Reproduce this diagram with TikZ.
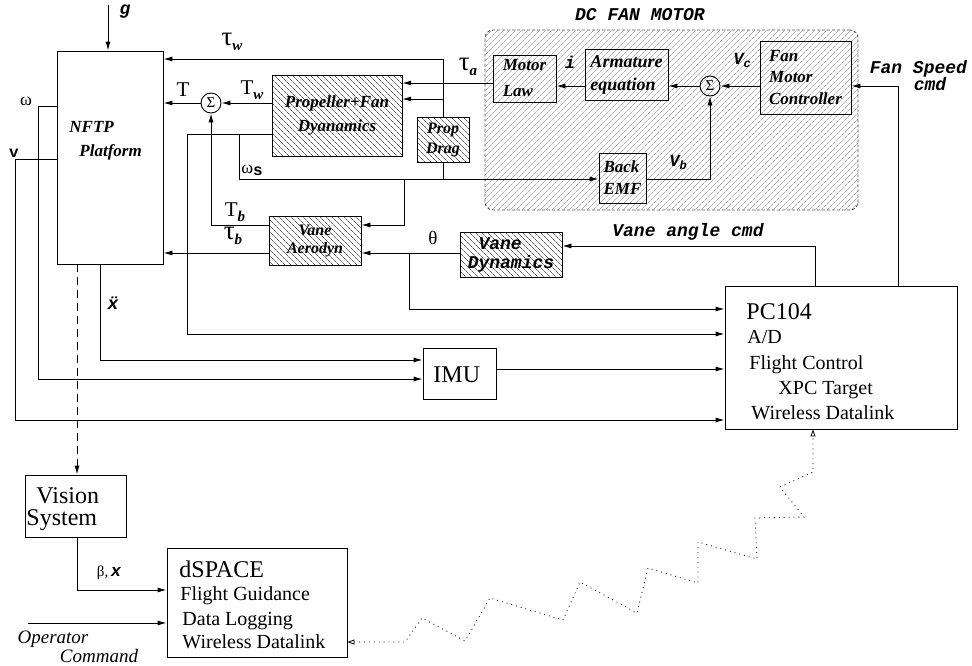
\documentclass[tikz,border=0pt]{standalone}
\usepackage{fontspec}
\setmainfont{Liberation Serif}
\newfontfamily\cour{Liberation Mono}
\usetikzlibrary{arrows.meta,patterns.meta}
\newcommand\fsz[1]{\fontsize{#1}{#1}\selectfont}
\newcommand\bix{\bfseries\itshape}
\newcommand\sbs[1]{\raisebox{-0.22em}{\fsz{15}\bfseries\itshape #1}}
\newcommand\csub[1]{\raisebox{-3pt}{\fsz{12}#1}}
\newcommand\tauu{{\fsz{27}τ}}
\begin{document}
\begin{tikzpicture}[x=1pt,y=-1pt,line width=0.9pt,
  arr/.style={-{Latex[length=9pt,width=5pt]}},
  blk/.style 2 args={draw,minimum width=#1,minimum height=#2,inner sep=0pt},
  hb/.style={pattern={Lines[angle=-45,distance=4pt,line width=0.4pt]}},
  hm/.style={pattern={Lines[angle=45,distance=4pt,line width=0.4pt]},pattern color=gray},
  sumc/.style={draw,circle,minimum size=20pt,inner sep=0pt,font=\fsz{15},fill=white},
  bl/.style={font=\fsz{17}\bix,align=center},
  cb/.style={font=\cour\bix\fsz{18}},
  tx/.style={anchor=base west,inner sep=0pt,font=\fsz{20}}]
\useasboundingbox (0,0) rectangle (972,665);

% DC fan motor region
\node[draw=gray!70!black,dash pattern=on 3pt off 2pt,rounded corners=8pt,hm,
      minimum width=373pt,minimum height=180pt,inner sep=0pt] (dcm) at (671.5,120) {};
\node[cb] (dct) at (640,15) {DC FAN MOTOR};

% blocks
\node[blk={106pt}{213pt}] (nftp) at (110,157.5) {};
\node[anchor=base west,inner sep=0pt,font=\fsz{17}\bix] (nftpA) at (69,132) {NFTP};
\node[anchor=base west,inner sep=0pt,font=\fsz{17}\bix] (nftpB) at (79,156) {Platform};

\node[blk={130pt}{81pt},hb,bl] (prop) at (337,115.5) {Propeller+Fan\\[7pt]Dyanamics};
\node[blk={52pt}{45pt},hb,bl,font=\fsz{16}\bix] (drag) at (443,139.5) {Prop\\[4pt]Drag};
\node[blk={92pt}{49pt},hb,bl,font=\fsz{16}\bix] (vaero) at (315,240.5) {Vane\\[2pt]Aerodyn};
\node[blk={102pt}{45pt},hb,align=left,font=\cour\bix\fsz{18}] (vdyn) at (511,254.5) {\hphantom{x}Vane\\[1pt]Dynamics};

\node[blk={63pt}{47pt},align=left,font=\fsz{17}\bix] (mlaw) at (524.5,78.5) {Motor\\[9pt]Law};
\node[blk={83pt}{51pt},align=left,font=\fsz{18}\bix] (arm) at (626.5,74.5) {Armature\\[5pt]equation};
\node[blk={91pt}{73pt},align=left,font=\fsz{17}\bix] (fmc) at (805.5,77.5) {Fan\\[4.5pt]Motor\\[4.5pt]Controller};
\node[blk={47pt}{50pt},align=left,font=\fsz{17}\bix] (bemf) at (622.5,178) {Back\\[5pt]EMF};
\node[sumc] (sum1) at (211,103) {Σ};
\node[sumc,fill=none] (sum2) at (710,86) {Σ};

\node[blk={232pt}{143pt}] (pc) at (841,357.5) {};
\node[tx,font=\fsz{24}] (pcA) at (746,319) {PC104};
\node[tx] (pcB) at (747,343) {A/D};
\node[tx] (pcC) at (749,369) {Flight Control};
\node[tx] (pcD) at (778,394) {XPC Target};
\node[tx] (pcE) at (751,419) {Wireless Datalink};

\node[blk={73pt}{51pt}] (imu) at (459.5,373.5) {};
\node[tx,font=\fsz{24}] (imuT) at (433,382) {IMU};

\node[blk={101pt}{62pt}] (vis) at (75.5,506) {};
\node[tx,font=\fsz{24}] (visA) at (36,503) {Vision};
\node[tx,font=\fsz{24}] (visB) at (26,525) {System};

\node[blk={180pt}{109pt}] (ds) at (257,602.5) {};
\node[tx,font=\fsz{24}] (dsA) at (179,577) {dSPACE};
\node[tx] (dsB) at (180,600) {Flight Guidance};
\node[tx] (dsC) at (182,625) {Data Logging};
\node[tx] (dsD) at (182,648) {Wireless Datalink};

% connectors
\coordinate (gin) at (108,5);
\draw[arr] (gin) -- (gin |- nftp.north);
\draw[arr] (drag.north) -- (drag.north |- 0,59) -- (nftp.east |- 0,59);
\draw[arr] (drag.north |- 0,99) -- (prop.east |- 0,99);
\draw[arr] (mlaw.west |- 0,83) -- (prop.east |- 0,83);
\draw[arr] (prop.west |- sum1) -- (sum1.east);
\draw[arr] (sum1.west) -- (nftp.east |- sum1);
\draw[arr] (prop.west |- 0,134) -| (187,334) -- (pc.west |- 0,334);
\coordinate (ws) at (239,134);
\draw[arr] (ws) |- (bemf.west |- 0,179);
\draw (drag.south) -- (drag.south |- 0,179);
\coordinate (vb) at (404,179);
\draw[arr] (vb) |- (vaero.east |- 0,225);
\draw[arr] (vaero.west |- 0,225) -| (sum1.south);
\draw[arr] (vaero.west |- 0,253) -- (nftp.east |- 0,253);
\draw[arr] (vdyn.west |- 0,253) -- (vaero.east |- 0,253);
\coordinate (th) at (409,253);
\draw[arr] (th) |- (pc.west |- 0,309);
\draw[arr] (pc.north -| 815,0) |- (vdyn.east |- 0,246);
\draw[arr] (pc.north -| 898,0) |- (fmc.east |- 0,86);
\draw[arr] (fmc.west |- sum2) -- (sum2.east);
\draw[arr] (sum2.west) -- (arm.east |- sum2);
\draw[arr] (arm.west |- sum2) -- (mlaw.east |- sum2);
\draw[arr] (bemf.east |- 0,179) -| (sum2.south);
\draw[arr] (nftp.south -| 100,0) |- (imu.west |- 0,360);
\draw[arr] (nftp.west |- 0,106) -| (38,379) -- (imu.west |- 0,379);
\draw[arr] (nftp.west |- 0,159) -| (15,420) -- (pc.west |- 0,420);
\draw[arr] (imu.east |- 0,369) -- (pc.west |- 0,369);
\draw[arr,dash pattern=on 8pt off 5pt] (nftp.south -| 77,0) -- (vis.north -| 77,0);
\draw[arr] (vis.south -| 77,0) |- (ds.west |- 0,590);
\coordinate (op) at (28,623);
\draw[arr] (op) -- (ds.west |- op);
\draw[line width=0.8pt,dash pattern=on 0.9pt off 4pt,
      {Triangle[open,length=7pt,width=5pt]}-{Triangle[open,length=7pt,width=5pt]}]
  (ds.east |- 0,642) -- (405,642) -- (422,618) -- (465,641) -- (490,598) -- (563,620)
  -- (580,582) -- (637,613) -- (648,568) -- (698,583) -- (698,542) -- (757,559)
  -- (755,518) -- (804,517) -- (780,487) -- (813,472) -- (pc.south -| 813,0);

% labels
\node[font=\cour\bix\fsz{18}] (lg) at (125,12) {g};
\node[font=\fsz{21}] (ltw) at (232,42) {\tauu\sbs{w}};
\node[font=\fsz{21}] (lT) at (183,90) {T};
\node[font=\fsz{21}] (lTw) at (252,90) {T\sbs{w}};
\node[font=\fsz{18}] (lom) at (26,101) {ω};
\node[font=\cour\bfseries\fsz{16}] (lv) at (14,153) {v};
\node[font=\fsz{18}] (lws) at (252,170) {ω\raisebox{-2pt}{\cour\bfseries\fsz{16}s}};
\node[font=\fsz{21}] (lTb) at (235,212) {T\sbs{b}};
\node[font=\fsz{21}] (ltb) at (233,236) {\tauu\sbs{b}};
\node[font=\fsz{21}] (lta) at (468,67) {\tauu\sbs{a}};
\node[font=\cour\bix\fsz{17}] (li) at (570,62) {i};
\node[font=\cour\bix\fsz{17}] (lvc) at (742,60) {V\csub{c}};
\node[font=\cour\bix\fsz{17}] (lvb) at (678,162) {V\csub{b}};
\node[cb,anchor=west] (lfs) at (866,69) {Fan Speed};
\node[cb] (lcmd) at (930,84) {cmd};
\node[font=\fsz{19}] (lth) at (433,238) {θ};
\node[font=\cour\bix\fsz{18}] (lxdd) at (113,305) {\ooalign{x\cr¨\cr}};
\node[font=\fsz{15}] (lbx) at (109,573) {β,\,{\cour\bix\fsz{17}x}};
\node[cb] (lva) at (688,232) {Vane angle cmd};
\node[font=\fsz{19}\itshape] (lop) at (53,639) {Operator};
\node[font=\fsz{19}\itshape] (lcm) at (99,656) {Command};
\end{tikzpicture}
\end{document}
